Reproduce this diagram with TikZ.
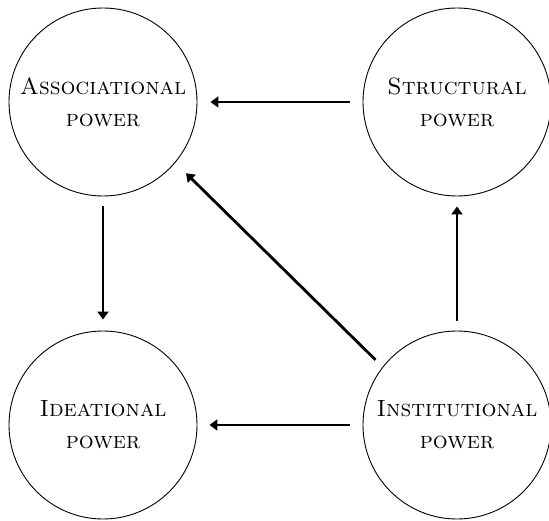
\documentclass[tikz,border=0pt]{standalone}
\usetikzlibrary{arrows.meta}
\begin{document}
\begin{tikzpicture}[x=1pt,y=-1pt,
  powernode/.style={circle,draw,line width=0.9pt,minimum size=188pt,inner sep=0pt,align=center,
    font=\fontsize{23.5}{32}\selectfont\scshape},
  conn/.style={line width=2.8pt,-{Triangle[length=8pt,width=11pt]}}]
\useasboundingbox (0,0) rectangle (549,521);
\node[powernode] (A) at (103,102) {Associational\\power};
\node[powernode] (S) at (457,102) {Structural\\power};
\node[powernode] (D) at (103,425) {Ideational\\power};
\node[powernode] (I) at (457,425) {Institutional\\power};
\draw[conn,shorten <=13pt,shorten >=13pt] (S) -- (A);
\draw[conn,shorten <=13pt,shorten >=12pt] (I) -- (D);
\draw[conn,shorten <=10pt,shorten >=11pt] (A) -- (D);
\draw[conn,shorten <=10pt,shorten >=10pt] (I) -- (S);
\draw[conn,shorten <=10pt,shorten >=15pt] (I.142) -- (A.-40.5);
\end{tikzpicture}
\end{document}
